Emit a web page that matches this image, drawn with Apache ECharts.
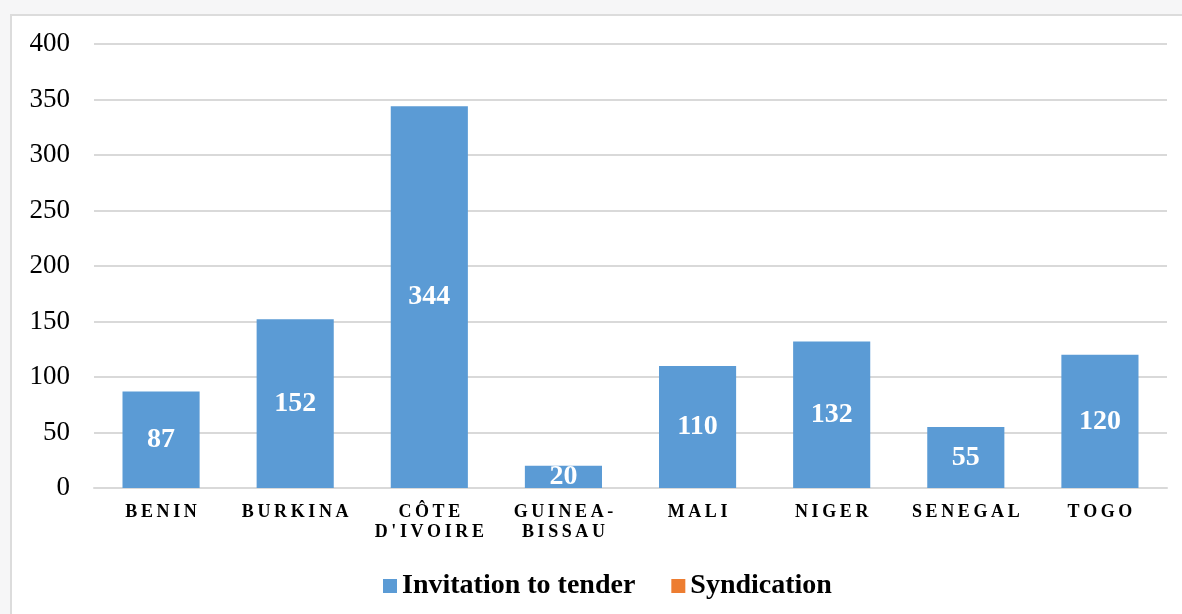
<!DOCTYPE html>
<html>
<head>
<meta charset="utf-8">
<script src="https://cdn.jsdelivr.net/npm/echarts@6/dist/echarts.min.js"></script>
<style>
  html, body { margin: 0; padding: 0; background: #f6f6f7; overflow: hidden; }
  #frame { position: absolute; left: 10px; top: 14px; width: 1200px; height: 640px;
           background: #fff; border: 2px solid #dcdcdc; box-sizing: border-box; }
  #main { position: absolute; left: 0; top: 0; width: 1182px; height: 614px; }
</style>
</head>
<body>
<div id="frame"></div>
<div id="main"></div>
<script>
var countries = ['BENIN', 'BURKINA', "CÔTE\nD'IVOIRE", 'GUINEA-\nBISSAU', 'MALI', 'NIGER', 'SENEGAL', 'TOGO'];
var tenderValues = [87, 152, 344, 20, 110, 132, 55, 120];
var syndicationValues = [null, null, null, null, null, null, null, null];

var chart = echarts.init(document.getElementById('main'));
var serif = 'Liberation Serif';

// spread the letters a bit, like the source (thin space between letters)
function spaced(s) {
    return s.split('\n').map(function (line) {
        return line.split('').join('\u2009');
    }).join('\n');
}

var option = {
    backgroundColor: 'transparent',
    animation: false,
    grid: { left: 94, right: 15, top: 44, bottom: 126 },
    legend: {
        left: 378,
        top: 567,
        itemWidth: 14,
        itemHeight: 14,
        itemGap: 36,
        icon: 'rect',
        textStyle: { fontFamily: serif, fontWeight: 'bold', fontSize: 28, color: '#000' },
        data: ['Invitation to tender', 'Syndication']
    },
    xAxis: {
        type: 'category',
        data: countries,
        axisLine: { lineStyle: { color: '#d9d9d9', width: 2 } },
        axisTick: { show: false },
        axisLabel: {
            margin: 14,
            interval: 0,
            lineHeight: 20,
            fontFamily: serif,
            fontWeight: 'bold',
            fontSize: 18,
            color: '#000',
            formatter: spaced
        }
    },
    yAxis: {
        type: 'value',
        min: 0,
        max: 400,
        interval: 50,
        axisLine: { show: false },
        axisTick: { show: false },
        splitLine: { lineStyle: { color: '#d9d9d9', width: 2 } },
        axisLabel: { margin: 24, fontFamily: serif, fontSize: 27, color: '#000' }
    },
    series: [
        {
            name: 'Invitation to tender',
            type: 'bar',
            barWidth: '57.5%',
            barGap: '-100%',
            itemStyle: { color: '#5b9bd5' },
            label: {
                show: true,
                position: 'inside',
                color: '#fff',
                fontFamily: serif,
                fontWeight: 'bold',
                fontSize: 28
            },
            data: tenderValues
        },
        {
            name: 'Syndication',
            type: 'bar',
            barWidth: '57.5%',
            barGap: '-100%',
            itemStyle: { color: '#ed7d31' },
            data: syndicationValues
        }
    ]
};
chart.setOption(option);
</script>
</body>
</html>
